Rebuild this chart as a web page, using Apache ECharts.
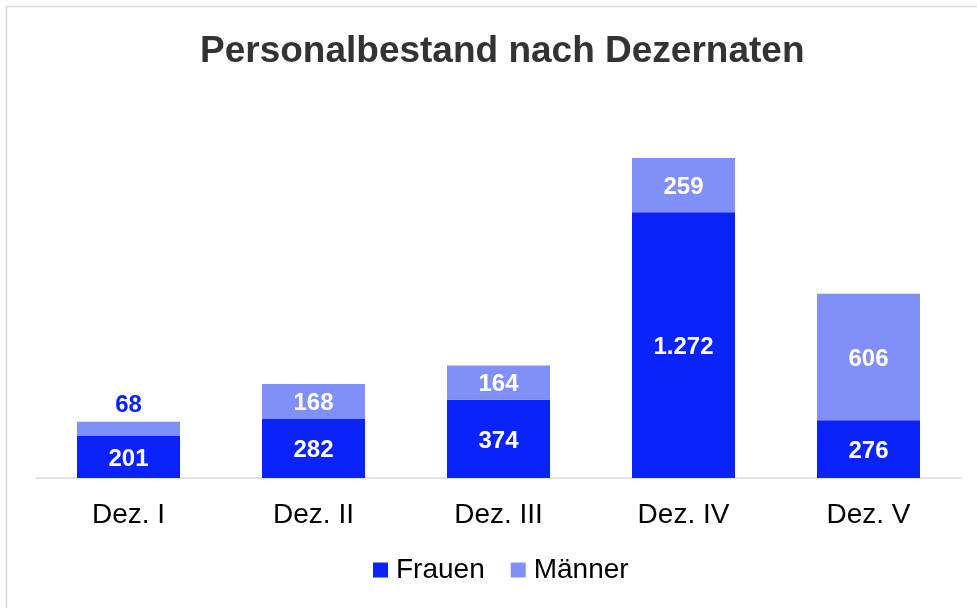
<!DOCTYPE html>
<html>
<head>
<meta charset="utf-8">
<script src="https://cdn.jsdelivr.net/npm/echarts@6/dist/echarts.min.js"></script>
<style>html,body{margin:0;padding:0;background:#fff}#c{width:977px;height:608px}</style>
</head>
<body>
<div id="c"></div>
<script>
const categories = ['Dez. I', 'Dez. II', 'Dez. III', 'Dez. IV', 'Dez. V'];
const frauen = [201, 282, 374, 1272, 276];
const maenner = [68, 168, 164, 259, 606];
const FONT = '"Liberation Sans", Arial, sans-serif';
const C_F = '#0A23FA';
const C_M = '#8090F8';

function fmt(v){ return v.toLocaleString('de-DE'); }

const chart = echarts.init(document.getElementById('c'), null, {renderer:'canvas'});
chart.setOption({
  animation: false,
  backgroundColor: '#fff',
  title: {
    text: 'Personalbestand nach Dezernaten',
    left: 195, top: 28,
    textStyle: {fontFamily: FONT, fontSize: 37, fontWeight: 'bold', color: '#333333'}
  },
  graphic: [{
    type: 'rect', silent: true, z: -1,
    shape: {x: 6.5, y: 6.5, width: 1200, height: 1200},
    style: {fill: 'none', stroke: '#d9d9d9', lineWidth: 1.5}
  }],
  legend: {
    top: 556, left: 373, padding: 0,
    itemWidth: 15, itemHeight: 15, itemGap: 26,
    icon: 'rect',
    textStyle: {fontFamily: FONT, fontSize: 28, color: '#000', padding: [0,0,0,3]},
    data: ['Frauen', 'Männer']
  },
  grid: {left: 36, right: 16, top: 60, bottom: 130, containLabel: false},
  xAxis: {
    type: 'category', data: categories,
    axisLine: {lineStyle: {color: '#d9d9d9', width: 1.5}},
    axisTick: {show: false},
    axisLabel: {fontFamily: FONT, fontSize: 28, color: '#000', margin: 23}
  },
  yAxis: {type: 'value', min: 0, max: 2000, show: false, splitLine: {show: false}},
  series: [
    {
      name: 'Frauen', type: 'bar', stack: 's', barWidth: 103,
      itemStyle: {color: C_F},
      label: {show: true, position: 'inside', offset: [0, 2], color: '#fff', fontFamily: FONT, fontSize: 24, fontWeight: 'bold', formatter: p => fmt(p.value)},
      data: frauen
    },
    {
      name: 'Männer', type: 'bar', stack: 's', barWidth: 103,
      itemStyle: {color: C_M},
      label: {show: true, position: 'inside', offset: [0, 2], color: '#fff', fontFamily: FONT, fontSize: 24, fontWeight: 'bold', formatter: p => fmt(p.value)},
      data: maenner.map((v, i) => i === 0 ? {value: v, label: {position: 'top', color: C_F, distance: 6}} : v)
    }
  ]
});
</script>
</body>
</html>
